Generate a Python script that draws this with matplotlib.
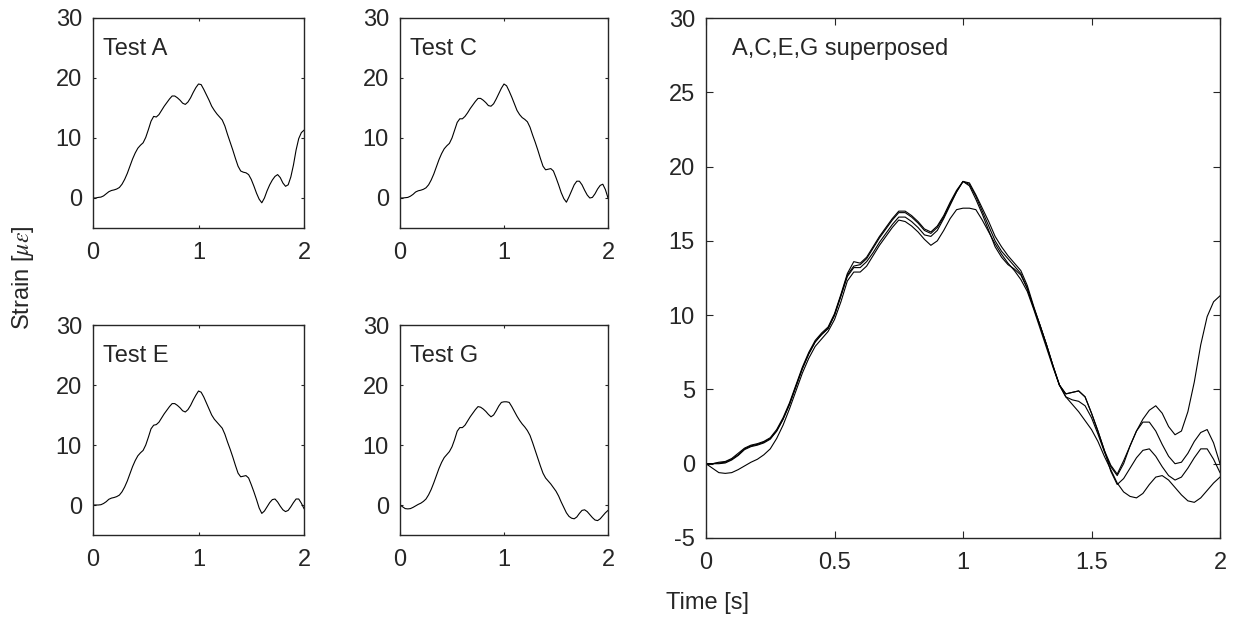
import numpy as np
import matplotlib
matplotlib.use('Agg')
import matplotlib.pyplot as plt

# time base [s], 0 to 2 in 0.025 steps
t = [0.000, 0.025, 0.050, 0.075, 0.100, 0.125, 0.150, 0.175, 0.200, 0.225,
     0.250, 0.275, 0.300, 0.325, 0.350, 0.375, 0.400, 0.425, 0.450, 0.475,
     0.500, 0.525, 0.550, 0.575, 0.600, 0.625, 0.650, 0.675, 0.700, 0.725,
     0.750, 0.775, 0.800, 0.825, 0.850, 0.875, 0.900, 0.925, 0.950, 0.975,
     1.000, 1.025, 1.050, 1.075, 1.100, 1.125, 1.150, 1.175, 1.200, 1.225,
     1.250, 1.275, 1.300, 1.325, 1.350, 1.375, 1.400, 1.425, 1.450, 1.475,
     1.500, 1.525, 1.550, 1.575, 1.600, 1.625, 1.650, 1.675, 1.700, 1.725,
     1.750, 1.775, 1.800, 1.825, 1.850, 1.875, 1.900, 1.925, 1.950, 1.975,
     2.000]

# strain [micro-strain]
strain_A = [0.0, 0.0, 0.1, 0.15, 0.35, 0.7, 1.05, 1.25, 1.35, 1.5,
            1.75, 2.3, 3.1, 4.1, 5.3, 6.5, 7.5, 8.3, 8.8, 9.2,
            10.1, 11.4, 12.8, 13.6, 13.5, 13.9, 14.6, 15.3, 15.9, 16.5,
            17.0, 17.0, 16.7, 16.3, 15.8, 15.6, 16.0, 16.7, 17.6, 18.4,
            19.0, 18.9, 18.1, 17.2, 16.3, 15.3, 14.6, 14.0, 13.5, 13.0,
            12.0, 10.6, 9.3, 8.0, 6.6, 5.3, 4.5, 4.3, 4.2, 3.9,
            3.1, 2.0, 0.8, -0.2, -0.8, 0.0, 1.2, 2.2, 3.0, 3.6,
            3.9, 3.4, 2.5, 1.95, 2.2, 3.5, 5.5, 8.0, 9.9, 10.9,
            11.3]
strain_C = [0.0, 0.0, 0.05, 0.1, 0.3, 0.6, 1.0, 1.2, 1.3, 1.45,
            1.7, 2.2, 3.0, 4.0, 5.2, 6.4, 7.4, 8.2, 8.7, 9.1,
            10.0, 11.3, 12.6, 13.2, 13.2, 13.6, 14.2, 14.9, 15.5, 16.1,
            16.6, 16.6, 16.3, 15.9, 15.4, 15.3, 15.7, 16.5, 17.4, 18.3,
            19.0, 18.7, 17.8, 16.8, 15.7, 14.6, 13.9, 13.4, 13.1, 12.7,
            11.8, 10.5, 9.3, 8.0, 6.6, 5.3, 4.7, 4.8, 4.9, 4.5,
            3.4, 2.2, 0.9, -0.1, -0.7, 0.2, 1.2, 2.2, 2.8, 2.8,
            2.2, 1.3, 0.5, 0.0, 0.1, 0.7, 1.5, 2.1, 2.3, 1.4,
            0.0]
strain_E = [0.0, 0.0, 0.0, 0.05, 0.25, 0.55, 0.95, 1.15, 1.25, 1.4,
            1.65, 2.2, 3.0, 4.0, 5.2, 6.4, 7.4, 8.2, 8.7, 9.1,
            10.0, 11.3, 12.7, 13.3, 13.4, 13.8, 14.5, 15.2, 15.8, 16.4,
            16.9, 16.9, 16.6, 16.2, 15.7, 15.5, 15.9, 16.6, 17.5, 18.3,
            19.0, 18.8, 18.0, 17.0, 16.0, 15.0, 14.3, 13.8, 13.3, 12.8,
            11.8, 10.5, 9.3, 8.0, 6.6, 5.3, 4.7, 4.8, 4.9, 4.5,
            3.4, 2.2, 0.9, -0.5, -1.4, -1.0, -0.3, 0.4, 0.9, 1.0,
            0.5, -0.2, -0.8, -1.1, -0.9, -0.3, 0.4, 1.0, 1.0, 0.3,
            -0.6]
strain_G = [0.0, -0.3, -0.6, -0.65, -0.6, -0.4, -0.15, 0.1, 0.3, 0.6,
            1.0, 1.7, 2.6, 3.7, 4.9, 6.1, 7.1, 7.9, 8.4, 8.9,
            9.7, 10.9, 12.3, 12.9, 12.9, 13.3, 14.0, 14.7, 15.3, 15.9,
            16.4, 16.3, 16.0, 15.6, 15.1, 14.7, 15.0, 15.7, 16.5, 17.1,
            17.2, 17.2, 17.1, 16.4, 15.6, 14.8, 14.1, 13.5, 13.0, 12.4,
            11.6, 10.4, 9.1, 7.8, 6.5, 5.3, 4.5, 4.0, 3.5, 2.9,
            2.3, 1.5, 0.5, -0.4, -1.3, -1.9, -2.2, -2.3, -2.0, -1.4,
            -0.9, -0.8, -1.1, -1.6, -2.1, -2.5, -2.6, -2.3, -1.8, -1.3,
            -0.9]

tests = ['Test A', 'Test C', 'Test E', 'Test G']
series = [strain_A, strain_C, strain_E, strain_G]

txt = '#262626'
fs = 17
plt.rcParams['font.family'] = ['Liberation Sans', 'DejaVu Sans']
plt.rcParams['mathtext.fontset'] = 'stix'
plt.rcParams['axes.unicode_minus'] = False
plt.rcParams['text.color'] = txt
plt.rcParams['axes.edgecolor'] = txt
plt.rcParams['xtick.color'] = txt
plt.rcParams['ytick.color'] = txt

fig = plt.figure(figsize=(12.4, 6.19), dpi=100)

W, H = 1240, 619
def box(x0, y0, x1, y1):
    return [x0 / W, 1 - y1 / H, (x1 - x0) / W, (y1 - y0) / H]

small_boxes = [box(93, 18, 304, 228), box(400, 18, 608, 228),
               box(93, 325, 304, 535), box(400, 325, 608, 535)]

def style(ax, ticklen):
    ax.tick_params(direction='in', length=ticklen, width=0.8, top=True, right=True,
                   labelsize=fs)
    ax.tick_params(axis='x', pad=10)
    ax.tick_params(axis='y', pad=8)
    for s in ax.spines.values():
        s.set_linewidth(1.0)

for name, y, pos in zip(tests, series, small_boxes):
    ax = fig.add_axes(pos)
    ax.plot(t, y, color='black', lw=0.8)
    ax.set_xlim(0, 2)
    ax.set_ylim(-5, 30)
    ax.set_xticks([0, 1, 2])
    ax.set_yticks([0, 10, 20, 30])
    ax.text(0.095, 24.8, name, fontsize=fs, ha='left', va='center')
    style(ax, 2)

big = fig.add_axes(box(706, 18, 1220, 538))
for y in series:
    big.plot(t, y, color='black', lw=0.8)
big.set_xlim(0, 2)
big.set_ylim(-5, 30)
big.set_xticks([0, 0.5, 1, 1.5, 2])
big.set_xticklabels(['0', '0.5', '1', '1.5', '2'])
big.set_yticks([-5, 0, 5, 10, 15, 20, 25, 30])
big.text(0.1, 27.9, 'A,C,E,G superposed', fontsize=fs, ha='left', va='center')
style(big, 5)

fig.text(23 / W, 1 - 278 / H, r'Strain [$\mu\varepsilon$]', rotation=90,
         ha='center', va='center', fontsize=fs)
fig.text(707 / W, 1 - 603 / H, 'Time [s]', ha='center', va='center', fontsize=fs)

fig.savefig('out.png', dpi=100)
